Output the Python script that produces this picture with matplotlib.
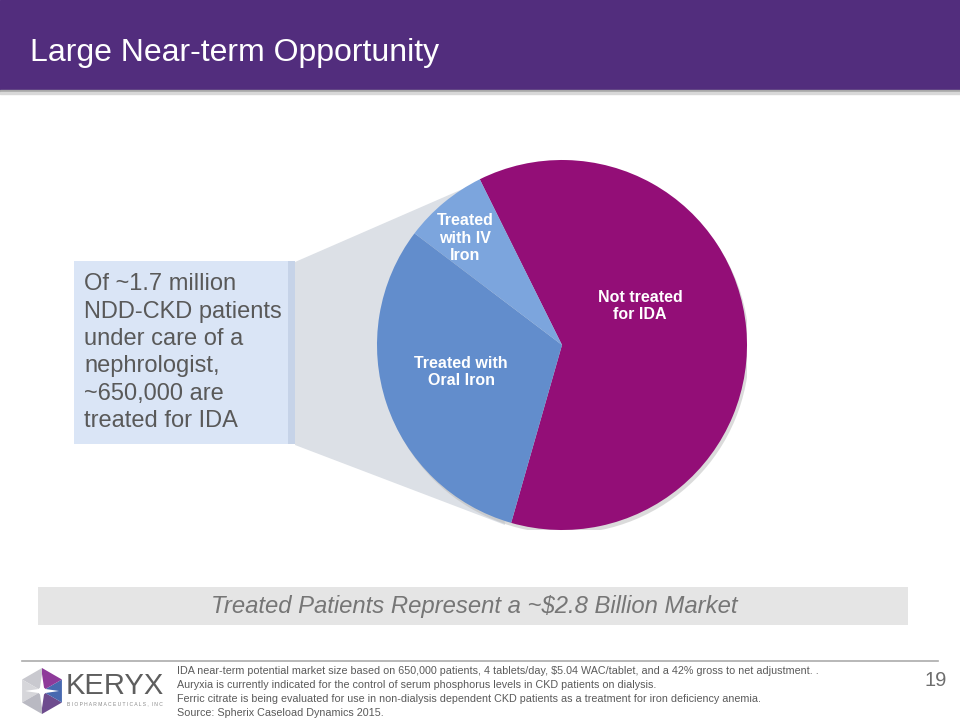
import numpy as np
import matplotlib
matplotlib.use("Agg")
import matplotlib.pyplot as plt
from matplotlib.patches import Rectangle, Polygon, Circle

plt.rcParams['font.family'] = ['Liberation Sans', 'DejaVu Sans']

# ---- data ----
categories = ["Not treated\nfor IDA", "Treated with\nOral Iron", "Treated\nwith IV\nIron"]
patients_k = [1050, 525, 125]          # thousands of NDD-CKD patients (~1.7M total)
slice_colors = ["#930E77", "#628DCC", "#7CA5DD"]
title = "Large Near-term Opportunity"
callout = "Of ~1.7 million\nNDD-CKD patients\nunder care of a\nnephrologist,\n~650,000 are\ntreated for IDA"
banner = "Treated Patients Represent a ~$2.8 Billion Market"
footnotes = [
    "IDA near-term potential market size based on 650,000 patients, 4 tablets/day, $5.04 WAC/tablet, and a 42% gross to net adjustment. .",
    "Auryxia is currently indicated for the control of serum phosphorus levels in CKD patients on dialysis.",
    "Ferric citrate is being evaluated for use in non-dialysis dependent CKD patients as a treatment for iron deficiency anemia.",
    "Source: Spherix Caseload Dynamics 2015.",
]
page_no = "19"

W, H = 960, 720
fig = plt.figure(figsize=(9.6, 7.2), dpi=100)
bg = fig.add_axes([0, 0, 1, 1])
bg.set_xlim(0, W)
bg.set_ylim(H, 0)
bg.axis("off")

# header
bg.add_patch(Rectangle((0, 0), W, 90, color="#522D7D", zorder=1))
bg.add_patch(Rectangle((0, 90), W, 2, color="#A8A8A8", zorder=1))
bg.add_patch(Rectangle((0, 92), W, 2, color="#D8D8D8", zorder=1))
bg.text(30, 53, title, color="white", fontsize=23, va="center", ha="left", zorder=2)

# pie geometry (pixels)
cx, cy, R = 562, 345, 185

# grey callout connector (behind the pie)
bg.add_patch(Polygon([(295, 262), (481, 181), (505, 525), (295, 445)],
                     closed=True, color="#DCE0E6", lw=0, zorder=1))

# blue text box
bg.add_patch(Rectangle((74, 261), 221, 183, color="#DAE5F6", lw=0, zorder=2))
bg.add_patch(Rectangle((288, 261), 7, 183, color="#C6D3E8", lw=0, zorder=2))
bg.text(84, 273.5, callout, color="#595959", fontsize=17, va="top", ha="left",
        linespacing=1.31, zorder=3)

# banner
bg.add_patch(Rectangle((38, 587), 870, 38, color="#E5E5E5", lw=0, zorder=1))
bg.text(474, 607, banner, color="#767676", fontsize=17.2, style="italic",
        ha="center", va="center", zorder=2)

# footer line
bg.plot([22, 938], [661, 661], color="#ABABAB", lw=1.2, zorder=1)
for i, line in enumerate(footnotes):
    bg.text(177, 670.5 + i * 14.0, line, color="#5A5A5A", fontsize=7.75,
            ha="left", va="center", zorder=2)
bg.text(947, 680, page_no, color="#6E6E6E", fontsize=14.5, ha="right", va="center")

# logo
lx, ly, lr = 42, 691, 23
ang = np.deg2rad(90 + 60 * np.arange(6))
hx = lx + lr * np.cos(ang)
hy = ly - lr * np.sin(ang)
facet_cols = ["#C9C9CF", "#D6D6DA", "#B9B9C2", "#6E4C8E", "#4869B0", "#8E3A9A"]
for k in range(6):
    j = (k + 1) % 6
    bg.add_patch(Polygon([(lx, ly), (hx[k], hy[k]), (hx[j], hy[j])], closed=True,
                         color=facet_cols[k], lw=0, zorder=2))
star = []
for k in range(12):
    a = np.deg2rad(0 + 30 * k)
    rr = 17 if k % 3 == 0 else 4
    star.append((lx + rr * np.cos(a), ly - rr * np.sin(a)))
bg.add_patch(Polygon(star, closed=True, color="white", lw=0, zorder=3))
bg.text(66, 686, "KERYX", color="#5E5E5E", fontsize=21, ha="left", va="center",
        zorder=2)
bg.text(67, 704, "B I O P H A R M A C E U T I C A L S ,  I N C", color="#8A8A8A",
        fontsize=3.6, ha="left", va="center", zorder=2)

# pie axes
pax = fig.add_axes([(cx - R) / W, (H - cy - R) / H, 2 * R / W, 2 * R / H])
pax.add_patch(Circle((0.012, -0.02), 1.0, color="#B8B8B8", alpha=0.5, lw=0, zorder=0))
wedges, _ = pax.pie(patients_k, colors=slice_colors, startangle=116.4,
                    counterclock=False, radius=1.0,
                    wedgeprops=dict(linewidth=0))
for w in wedges:
    w.set_zorder(1)
pax.set_xlim(-1, 1)
pax.set_ylim(-1, 1)
pax.set_aspect("equal")
pax.axis("off")

label_pos = [((640 - cx) / R, (cy - 306) / R),
             ((461 - cx) / R, (cy - 372) / R),
             ((465 - cx) / R, (cy - 238) / R)]
for lab, (x, y) in zip(categories, label_pos):
    pax.text(x, y, lab, color="white", fontsize=11.5, fontweight="bold",
             ha="center", va="center", linespacing=1.2, zorder=3)

fig.savefig("out.png", dpi=100)
